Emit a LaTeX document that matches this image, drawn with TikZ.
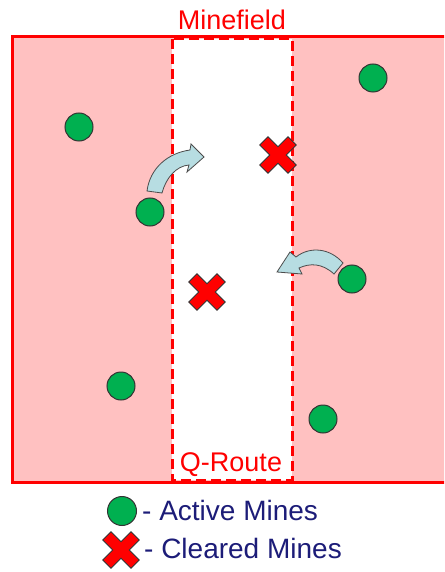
\documentclass[tikz,border=0pt]{standalone}
\usepackage{fontspec}
\setmainfont{Liberation Sans}
\definecolor{fieldpink}{RGB}{255,193,193}
\definecolor{minered}{RGB}{255,0,0}
\definecolor{minegreen}{RGB}{0,176,80}
\definecolor{arrowblue}{RGB}{183,221,226}
\definecolor{legendnavy}{RGB}{28,28,120}
\tikzset{
  mine/.style={circle, draw=black!80, line width=1pt, fill=minegreen, minimum size=28pt, inner sep=0pt},
  cleared/.pic={
    \draw[black!80, line width=0.8pt, fill=minered, rotate=45]
      (-5.8,-20) -- (5.8,-20) -- (5.8,-5.8) -- (20,-5.8) -- (20,5.8) -- (5.8,5.8)
      -- (5.8,20) -- (-5.8,20) -- (-5.8,5.8) -- (-20,5.8) -- (-20,-5.8) -- (-5.8,-5.8) -- cycle;
  },
  bentarrow/.style={draw=black!70, line width=0.8pt, fill=arrowblue},
  redlabel/.style={text=minered, font=\fontsize{27}{30}\selectfont, inner sep=0pt},
  legendtext/.style={text=legendnavy, font=\fontsize{28}{32}\selectfont, anchor=west, inner sep=0pt}
}
\begin{document}
\begin{tikzpicture}[x=1pt, y=-1pt]
\useasboundingbox (0,0) rectangle (444,572);
\clip (0,0) rectangle (444,572);
% minefield area
\draw[minered, line width=3pt, fill=fieldpink] (12,37) rectangle (460,482);
% cleared route
\draw[minered, line width=3pt, dash pattern=on 10pt off 5pt, fill=white] (172,39) rectangle (292,480);
\node[redlabel] (title) at (232,20) {Minefield};
\node[redlabel] (route) at (231,465) {Q-Route};
% active mines
\node[mine] (m1) at (79,127) {};
\node[mine] (m2) at (373,78) {};
\node[mine] (m3) at (150,212) {};
\node[mine] (m4) at (352,279) {};
\node[mine] (m5) at (121,386) {};
\node[mine] (m6) at (323,419) {};
% cleared mines
\pic at (278,155) {cleared};
\pic at (207,292) {cleared};
% mines drifting into the route
\draw[bentarrow] (147,191) .. controls (150,168) and (168,153) .. (190,150)
  -- (191,144) -- (204,157) -- (187,172) -- (189,165)
  .. controls (176,166) and (166,178) .. (162,193) -- cycle;
\draw[bentarrow] (290,252) -- (296,257) .. controls (310,246) and (330,248) .. (343,263)
  -- (334,274) .. controls (322,263) and (310,263) .. (299,268)
  -- (302,274) -- (277,272) -- cycle;
% legend
\node[mine, minimum size=29pt] (lm) at (122,511) {};
\pic at (121,550) {cleared};
\node[legendtext] (lt1) at (142,510) {- Active Mines};
\node[legendtext] (lt2) at (144,548) {- Cleared Mines};
\end{tikzpicture}
\end{document}
